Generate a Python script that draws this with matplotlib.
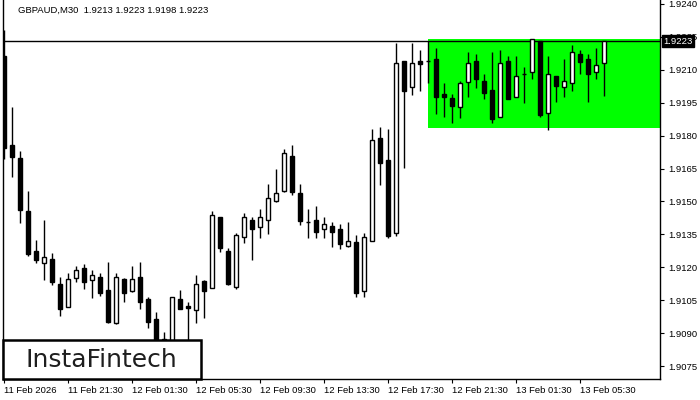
import matplotlib
matplotlib.use("Agg")
import matplotlib.pyplot as plt
from matplotlib.patches import Rectangle
from matplotlib.transforms import blended_transform_factory

# ---- data (GBPAUD M30) ----
opens = [1.92163, 1.91757, 1.91698, 1.91456, 1.91275, 1.91220, 1.91237, 1.91123, 1.91020, 1.91152,
         1.91196, 1.91143, 1.91155, 1.91096, 1.90944, 1.91146, 1.91093, 1.91154, 1.91055, 1.90962,
         1.90872, 1.90830, 1.91055, 1.91023, 1.91005, 1.91137, 1.91104, 1.91427, 1.91274, 1.91111,
         1.91336, 1.91415, 1.91384, 1.91414, 1.91503, 1.91546, 1.91707, 1.91537, 1.91405, 1.91415,
         1.91373, 1.91386, 1.91373, 1.91295, 1.91315, 1.91094, 1.91321, 1.91789, 1.91689, 1.91354,
         1.92140, 1.92020, 1.92140, 1.92139, 1.92148, 1.91988, 1.91970, 1.91929, 1.92046, 1.92139,
         1.92048, 1.92008, 1.91886, 1.92139, 1.91977, 1.92079, 1.92089, 1.92231, 1.91904, 1.92072,
         1.92020, 1.92038, 1.92172, 1.92148, 1.92089, 1.92130]
highs = [1.92281, 1.91929, 1.91730, 1.91547, 1.91324, 1.91415, 1.91265, 1.91155, 1.91173, 1.91205,
         1.91214, 1.91187, 1.91173, 1.91225, 1.91172, 1.91150, 1.91205, 1.91225, 1.91063, 1.90994,
         1.90904, 1.91065, 1.91096, 1.91042, 1.91164, 1.91140, 1.91456, 1.91430, 1.91286, 1.91354,
         1.91448, 1.91427, 1.91465, 1.91579, 1.91648, 1.91737, 1.91757, 1.91579, 1.91465, 1.91479,
         1.91427, 1.91405, 1.91397, 1.91406, 1.91345, 1.91354, 1.91830, 1.91839, 1.91830, 1.92222,
         1.92142, 1.92222, 1.92190, 1.92231, 1.92198, 1.92038, 1.91988, 1.92049, 1.92180, 1.92172,
         1.92081, 1.92180, 1.92190, 1.92163, 1.92163, 1.92111, 1.92240, 1.92231, 1.92163, 1.92072,
         1.92148, 1.92213, 1.92190, 1.92172, 1.92198, 1.92230]
lows = [1.91693, 1.91612, 1.91403, 1.91252, 1.91220, 1.91141, 1.91119, 1.90977, 1.91018, 1.91134,
        1.91102, 1.91061, 1.91068, 1.90944, 1.90941, 1.91042, 1.91088, 1.91012, 1.90921, 1.90813,
        1.90822, 1.90800, 1.91009, 1.90840, 1.90944, 1.90971, 1.91104, 1.91270, 1.91119, 1.91102,
        1.91312, 1.91233, 1.91334, 1.91351, 1.91496, 1.91544, 1.91529, 1.91394, 1.91334, 1.91334,
        1.91334, 1.91293, 1.91283, 1.91293, 1.91065, 1.91065, 1.91320, 1.91575, 1.91334, 1.91343,
        1.91654, 1.91986, 1.92005, 1.92038, 1.91897, 1.91886, 1.91856, 1.91879, 1.91977, 1.92018,
        1.91967, 1.91856, 1.91886, 1.91967, 1.91975, 1.91947, 1.92058, 1.91886, 1.91825, 1.91954,
        1.91977, 1.92003, 1.92079, 1.91954, 1.92058, 1.91980]
closes = [1.91743, 1.91704, 1.91461, 1.91260, 1.91233, 1.91245, 1.91132, 1.91011, 1.91146, 1.91187,
          1.91132, 1.91164, 1.91084, 1.90950, 1.91154, 1.91085, 1.91146, 1.91042, 1.90951, 1.90845,
          1.90863, 1.91063, 1.91012, 1.91014, 1.91122, 1.91093, 1.91438, 1.91286, 1.91122, 1.91345,
          1.91427, 1.91373, 1.91427, 1.91514, 1.91537, 1.91719, 1.91544, 1.91412, 1.91405, 1.91362,
          1.91395, 1.91362, 1.91304, 1.91322, 1.91085, 1.91336, 1.91780, 1.91676, 1.91343, 1.92130,
          1.92005, 1.92130, 1.92128, 1.92139, 1.91977, 1.91977, 1.91936, 1.92038, 1.92130, 1.92059,
          1.91996, 1.91877, 1.92130, 1.91968, 1.92070, 1.92079, 1.92240, 1.91894, 1.92081, 1.92027,
          1.92049, 1.92180, 1.92137, 1.92079, 1.92122, 1.92230]

x_tick_bars = [0, 8, 16, 24, 32, 40, 48, 56, 64, 72]
x_tick_labels = ["11 Feb 2026", "11 Feb 21:30", "12 Feb 01:30", "12 Feb 05:30", "12 Feb 09:30",
                 "12 Feb 13:30", "12 Feb 17:30", "12 Feb 21:30", "13 Feb 01:30", "13 Feb 05:30"]
y_ticks = [1.9075, 1.9090, 1.9105, 1.9120, 1.9135, 1.9150, 1.9165, 1.9180, 1.9195, 1.9210, 1.9225, 1.9240]

zone_start = 53
zone_low = 1.91833
zone_high = 1.92240
last_price = 1.9223
title = "GBPAUD,M30  1.9213 1.9223 1.9198 1.9223"

# ---- figure ----
plt.rcParams['font.family'] = ['Liberation Sans', 'DejaVu Sans']
fig = plt.figure(figsize=(7, 4), dpi=100)
ax = fig.add_axes([3 / 700, 1 - 379 / 400, 656.5 / 700, 379 / 400])
ax.set_xlim(-0.0625, 82.0)
ax.set_ylim(1.906908, 1.924182)

xs = list(range(len(opens)))
# pattern zone
ax.add_patch(Rectangle((zone_start, zone_low), 82.0 - zone_start, zone_high - zone_low,
                       facecolor='#00ff00', edgecolor='none', zorder=1))
ax.axhline(last_price, color='black', lw=1.0, zorder=2)

ax.vlines(xs, lows, highs, color='black', lw=1.0, zorder=3)
bottoms = [min(o, c) for o, c in zip(opens, closes)]
heights = [max(abs(c - o), 0.000001) for o, c in zip(opens, closes)]
faces = ['white' if c > o else 'black' for o, c in zip(opens, closes)]
ax.bar(xs, heights, bottom=bottoms, width=0.5, color=faces, edgecolor='black',
       linewidth=1.0, zorder=4)

# axes styling
for s in ['left', 'bottom', 'right']:
    ax.spines[s].set_color('black')
    ax.spines[s].set_linewidth(1.0)
ax.spines['top'].set_visible(False)
ax.yaxis.tick_right()
ax.set_yticks(y_ticks)
ax.set_yticklabels([f"{v:.4f}" for v in y_ticks])
ax.tick_params(axis='y', direction='out', length=3, width=0.8, pad=3, labelsize=6.8, colors='black')
ax.set_xticks(x_tick_bars)
ax.set_xticklabels(x_tick_labels, ha='left')
ax.tick_params(axis='x', direction='out', length=3, width=0.8, pad=2, labelsize=6.8, colors='black')
for lab in ax.get_xticklabels():
    lab.set_horizontalalignment('left')

# current price box
tr = blended_transform_factory(ax.transAxes, ax.transData)
ax.text(1.006, last_price, f"{last_price:.4f}", transform=tr, color='white', fontsize=6.8,
        va='center', ha='left', clip_on=False, zorder=10,
        bbox=dict(boxstyle='square,pad=0.15', fc='black', ec='black'))

fig.text(18 / 700, 1 - 10 / 400, title, fontsize=6.8, va='center', ha='left', color='black')

# logo
fig.patches.append(Rectangle((3 / 700, 1 - 379 / 400), 198 / 700, 39 / 400, transform=fig.transFigure,
                             facecolor='white', edgecolor='black', linewidth=1.8, zorder=20))
fig.text(101 / 700, 1 - 360 / 400, "InstaFintech", fontsize=18, color='#1e1e1e',
         ha='center', va='center', zorder=21, family=['DejaVu Sans'], fontweight='medium')

fig.savefig("out.png", dpi=100)
